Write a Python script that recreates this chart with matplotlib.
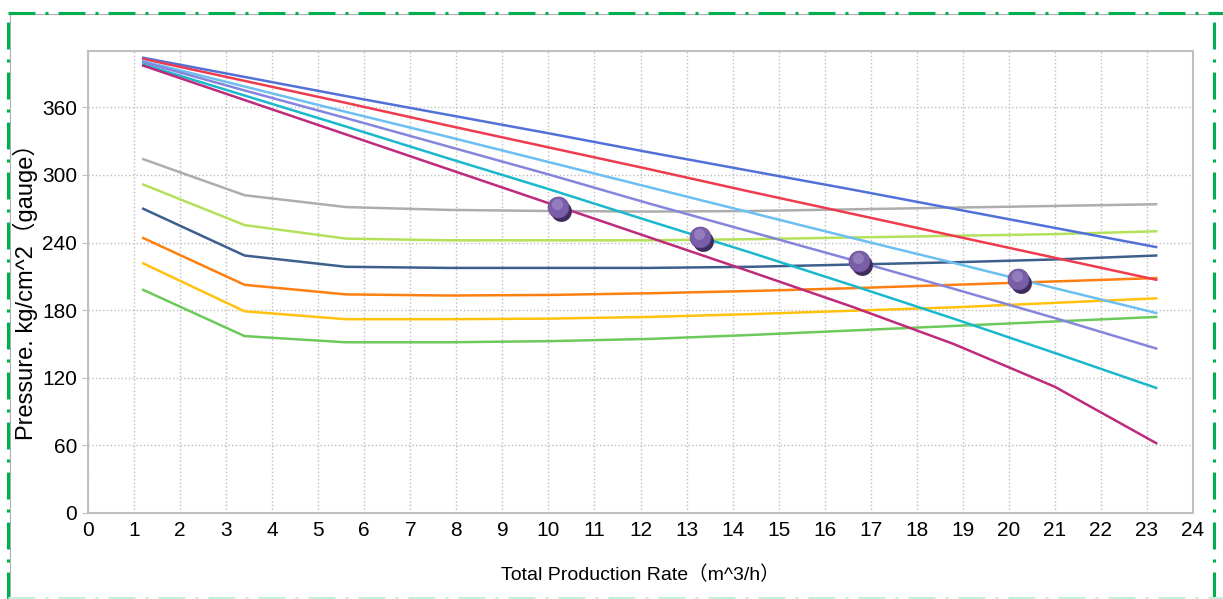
import matplotlib
matplotlib.use("Agg")
import matplotlib.pyplot as plt
from matplotlib.lines import Line2D
from matplotlib.transforms import offset_copy

# data #################################################################################
rate = [1.2, 3.4, 5.6, 7.8, 10.0, 12.2, 14.4, 16.6, 18.8, 21.0, 23.2]

# falling curves (top group)
royal_blue = [404, 387, 370, 353.5, 337, 320, 303.5, 287, 270, 253, 236]
red = [403, 383.5, 364, 344, 324.5, 305, 285, 265.5, 246, 226.5, 207]
sky_blue = [401, 378.5, 356, 334, 311.5, 289, 266.5, 244, 222, 199.5, 177.5]
lavender = [400, 375, 350.5, 325.5, 300.5, 274.5, 249.5, 224.5, 199, 173, 146]
cyan = [398, 370.5, 343, 315, 287.5, 259, 231, 202, 172.5, 142, 111]
magenta = [397, 366.5, 336, 305.5, 275, 244.5, 214, 183, 150, 112, 62]

# flat curves (bottom group)
gray = [314, 282, 271.5, 269, 268, 267.5, 268, 269.5, 271, 272.5, 274]
light_green = [291.5, 255.5, 243.5, 242, 242, 242, 243, 244.5, 246, 247.5, 250]
dark_blue = [270, 228.5, 218.5, 217.5, 217.5, 217.5, 218.5, 220.5, 222.5, 225, 228.5]
orange = [244, 202.5, 194, 193, 193.5, 195, 197, 199.5, 202.5, 205.5, 208.5]
gold = [221.5, 179, 172, 172, 172.5, 174, 176.5, 179.5, 182.5, 186.5, 190.5]
green = [198, 157, 151.5, 151.5, 152.5, 154.5, 158, 162, 166, 170, 174]

# operating points
point_x = [10.2, 13.3, 16.75, 20.2]
point_y = [271.5, 244.5, 224, 207.5]

x_ticks = list(range(0, 25))
y_ticks = [0, 60, 120, 180, 240, 300, 360]

series = [
    (green, "#6cc95c"),
    (gold, "#ffc20e"),
    (orange, "#ff7f10"),
    (dark_blue, "#3d5f8c"),
    (light_green, "#b4e15a"),
    (gray, "#adadad"),
    (royal_blue, "#5171d8"),
    (red, "#ef3b4e"),
    (sky_blue, "#6cbff0"),
    (lavender, "#8585dc"),
    (cyan, "#19b8cc"),
    (magenta, "#be2a7c"),
]

# plot #################################################################################
plt.rcParams["font.family"] = ["Liberation Sans", "Noto Sans CJK SC"]
plt.rcParams["lines.scale_dashes"] = False

fig = plt.figure(figsize=(12.23, 5.99), dpi=100)
ax = fig.add_axes([88 / 1223, 1 - 513 / 599, 1105 / 1223, 462 / 599])

for values, colour in series:
    ax.plot(rate, values, color=colour, lw=1.8, solid_joinstyle="round")

# 3d-ish purple balls: shadow, body, highlight
shadow = offset_copy(ax.transData, fig=fig, x=3, y=-4, units="dots")
shine = offset_copy(ax.transData, fig=fig, x=-1, y=3, units="dots")
ax.plot(point_x, point_y, "o", ms=15, color="#3e2d5c", mec="none", transform=shadow, zorder=5)
ax.plot(point_x, point_y, "o", ms=15, color="#7a5ea8", mec="#6a4f96", mew=0.6, zorder=6)
ax.plot(point_x, point_y, "o", ms=8, color="#9a85c4", mec="none", alpha=0.8, transform=shine, zorder=7)

ax.set_xlim(0, 24)
ax.set_ylim(0, 410)
ax.set_xticks(x_ticks)
ax.set_yticks(y_ticks)
ax.tick_params(axis="both", labelsize=15, length=4, color="#bfbfbf", pad=4)
ax.tick_params(axis="x", length=0, pad=6)
ax.grid(True, ls=":", color="#bdbdbd", lw=1)
ax.set_axisbelow(True)
for s in ax.spines.values():
    s.set_color("#c0c0c0")
    s.set_linewidth(1.5)

ax.set_xlabel("Total Production Rate（m^3/h）", fontsize=14, va="top")
ax.xaxis.set_label_coords(0.5, -0.113)
ax.set_ylabel("Pressure. kg/cm^2（gauge）", fontsize=17, va="center")
ax.yaxis.set_label_coords(-0.057, 0.492)

# dash-dot frame round the picture
def frame_line(xs, ys, colour):
    fig.add_artist(Line2D(xs, ys, transform=fig.transFigure, color=colour, lw=2.2,
                          dashes=(19.4, 7.2, 2.2, 7.2)))

top = 1 - 12.5 / 599
bottom = 1 - 597.5 / 599
left = 7.5 / 1223
right = 1214 / 1223
fig.add_artist(Line2D([9.5 / 1223, 1], [1 - 13.8 / 599] * 2, transform=fig.transFigure, color="#b0b0b0", lw=0.8))
fig.add_artist(Line2D([9.5 / 1223] * 2, [0, 1 - 13.8 / 599], transform=fig.transFigure, color="#b0b0b0", lw=0.8))
frame_line([left, 1], [top, top], "#00b050")
frame_line([left, left], [0, top], "#00b050")
frame_line([right, right], [0, top], "#00b050")
frame_line([left, 1], [bottom, bottom], "#c5efd6")

fig.savefig("out.png", dpi=100)
